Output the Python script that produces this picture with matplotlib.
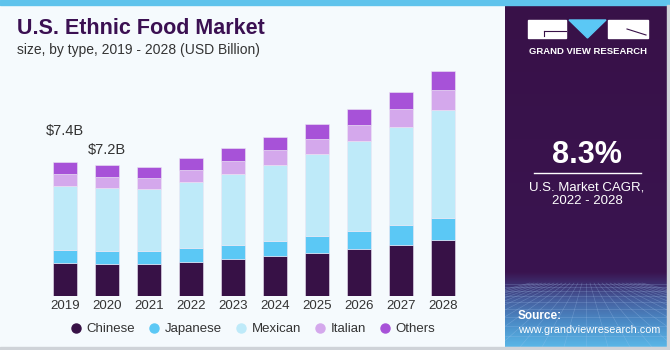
import numpy as np
import matplotlib.pyplot as plt
from matplotlib.lines import Line2D
from matplotlib.patches import Rectangle, Polygon
from matplotlib.colors import to_rgb

plt.rcParams['font.family'] = ['Liberation Sans', 'DejaVu Sans']

# datos (USD mil millones)
years = ['2019', '2020', '2021', '2022', '2023', '2024', '2025', '2026', '2027', '2028']
chinese = [1.82, 1.78, 1.76, 1.89, 2.04, 2.19, 2.37, 2.59, 2.81, 3.10]
japanese = [0.72, 0.70, 0.70, 0.77, 0.79, 0.84, 0.92, 0.99, 1.10, 1.20]
mexican = [3.53, 3.49, 3.45, 3.64, 3.91, 4.23, 4.55, 4.96, 5.42, 5.99]
italian = [0.66, 0.63, 0.63, 0.68, 0.72, 0.79, 0.83, 0.92, 0.98, 1.10]
others = [0.66, 0.61, 0.61, 0.64, 0.70, 0.72, 0.81, 0.88, 0.98, 1.05]
series = ['Chinese', 'Japanese', 'Mexican', 'Italian', 'Others']
colores = ['#371146', '#5bc8f5', '#beeaf9', '#d4a8ec', '#a752d8']
etiquetas = {0: '$7.4B', 1: '$7.2B'}
etiq_y = {0: 9.1, 1: 8.05}

W, H = 670, 350
fig = plt.figure(figsize=(W / 100, H / 100), dpi=100)
fig.patch.set_facecolor('#f5fafd')

def px(x0, y0, w, h):
    # caja en pixeles (origen arriba a la izquierda) -> fraccion de figura
    return [x0 / W, 1 - (y0 + h) / H, w / W, h / H]

# barras apiladas
ax = fig.add_axes(px(44, 60, 420, 236))
ax.set_facecolor('none')
x = np.arange(len(years))
base = np.zeros(len(years))
for vals, nombre, c in zip([chinese, japanese, mexican, italian, others], series, colores):
    ax.bar(x, vals, bottom=base, width=0.57, color=c, edgecolor='#ece6f4',
           linewidth=0.4, label=nombre)
    base += np.array(vals)
for i, t in etiquetas.items():
    ax.text(x[i], etiq_y[i], t, ha='center', va='center', fontsize=10.5, color='#333333')
ax.set_xlim(-0.5, 9.5)
ax.set_ylim(0, 236 / 18.1)
ax.set_xticks(x)
ax.set_xticklabels(years, fontsize=9.5, color='#333333')
ax.tick_params(axis='x', length=0, pad=3)
ax.set_yticks([])
for s in ax.spines.values():
    s.set_visible(False)

handles = [Line2D([], [], marker='o', linestyle='none', markersize=6.5,
                  markerfacecolor=c, markeredgecolor=c) for c in colores]
fig.legend(handles, series, loc='center', bbox_to_anchor=(253 / W, 1 - 329 / H),
           ncol=5, frameon=False, fontsize=9.5, handlelength=0.8, handletextpad=0.4,
           columnspacing=1.05, labelcolor='#333333')

# titulo
fig.text(17 / W, 1 - 29 / H, 'U.S. Ethnic Food Market', fontsize=15.5,
         fontweight='bold', color='#3b1052', va='center')
fig.text(17 / W, 1 - 50 / H, 'size, by type, 2019 - 2028 (USD Billion)', fontsize=10,
         color='#333333', va='center')

# panel derecho
pan = fig.add_axes(px(505, 5, 162, 342))
pan.axis('off')
# degradado vertical, una fila por pixel
filas = np.arange(5, 347)
paradas_y = [5, 272, 284, 300, 320, 347]
paradas_c = ['#381148', '#3a1450', '#3d3070', '#4660a0', '#4a88c4', '#5ab8e8']
rgb = np.array([to_rgb(c) for c in paradas_c])
img = np.stack([np.interp(filas, paradas_y, rgb[:, k]) for k in range(3)], axis=1)
img = np.repeat(img[:, None, :], 2, axis=1)
pan.imshow(img, aspect='auto', extent=(505, 667, 347, 5), origin='upper',
           interpolation='nearest')
# rejilla decorativa
for k in range(-14, 15):
    pan.plot([586 + k * 4, 586 + k * 22], [283, 347], color='#a8c8f0', lw=0.4, alpha=0.35)
for yy in [284, 287, 291, 296, 302, 309, 317, 326, 336, 346]:
    pan.plot([505, 667], [yy, yy], color='#a8c8f0', lw=0.4, alpha=0.35)

# logo
pan.add_patch(Rectangle((528, 20), 38, 18, color='white'))
pan.add_patch(Polygon([(569, 20), (606, 20), (587.5, 38)], color='#5bc8f5'))
pan.add_patch(Rectangle((608, 20), 40, 18, color='white'))
pan.plot([544, 566], [31, 31], color='#381148', lw=0.8)
pan.plot([544, 544], [31, 36], color='#381148', lw=0.8)
pan.plot([627, 646], [29, 35], color='#381148', lw=0.8)
pan.text(588, 51, 'GRAND VIEW RESEARCH', ha='center', va='center', fontsize=6.8,
         fontweight='bold', color='white')

pan.text(587, 155, '8.3%', ha='center', va='center', fontsize=22,
         fontweight='bold', color='white')
pan.plot([534, 641], [173, 173], color='white', lw=1)
pan.text(587, 187, 'U.S. Market CAGR,', ha='center', va='center', fontsize=9.5, color='white')
pan.text(587, 201, '2022 - 2028', ha='center', va='center', fontsize=9.5, color='white')
pan.text(518, 316, 'Source:', ha='left', va='center', fontsize=8.5,
         fontweight='bold', color='white')
pan.text(518, 330, 'www.grandviewresearch.com', ha='left', va='center',
         fontsize=7.8, color='white')
pan.set_xlim(505, 667)
pan.set_ylim(347, 5)

# franja superior y bordes
fig.patches.append(Rectangle((0, 1 - 5 / H), 1, 5 / H, transform=fig.transFigure,
                             color='#5fc3ec', zorder=5))
fig.patches.append(Rectangle((0, 0), 1, 3 / H, transform=fig.transFigure,
                             color='#cfd3d8', zorder=5))
fig.patches.append(Rectangle((1 - 3 / W, 0), 3 / W, 1 - 5 / H, transform=fig.transFigure,
                             color='#cfd3d8', zorder=5))

fig.savefig('out.png', dpi=100, facecolor=fig.get_facecolor())
